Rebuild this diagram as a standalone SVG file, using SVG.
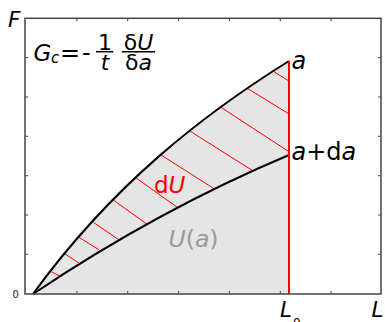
<svg xmlns="http://www.w3.org/2000/svg" width="385" height="322" viewBox="0 0 385 322">
<style>
text{font-family:"DejaVu Sans","Noto Sans",sans-serif;}
.it{font-style:italic;}
.frame{fill:none;stroke:#444;stroke-width:1.5;}
.tick{stroke:#444;stroke-width:1;}
.curve{fill:none;stroke:#000;stroke-width:2;}
.hatch{stroke:#ff0000;stroke-width:1;}
.bar{stroke:#000;stroke-width:1.5;}
</style>
<rect width="385" height="322" fill="#fff"/>
<g id="area">
<path d="M33,294 C113,184 204,114 289,61 L289,294 Z" fill="#e5e5e5"/>
</g>
<g id="hatch">
<line class="hatch" x1="50" y1="271" x2="61" y2="276.7"/>
<line class="hatch" x1="64" y1="253.3" x2="79.3" y2="263.3"/>
<line class="hatch" x1="79" y1="237.3" x2="99.3" y2="250"/>
<line class="hatch" x1="93.3" y1="222.3" x2="119.3" y2="240"/>
<line class="hatch" x1="113.3" y1="200" x2="146.7" y2="224"/>
<line class="hatch" x1="135.7" y1="177.7" x2="177.3" y2="207.3"/>
<line class="hatch" x1="160" y1="154.3" x2="215" y2="189.3"/>
<line class="hatch" x1="189.3" y1="130.7" x2="252.7" y2="170.7"/>
<line class="hatch" x1="220.5" y1="107" x2="289" y2="151.7"/>
<line class="hatch" x1="247.3" y1="88.3" x2="289" y2="114"/>
<line class="hatch" x1="272.7" y1="71" x2="289" y2="81"/>
</g>
<g id="connectors">
<path id="upper" class="curve" d="M33,294 C113,184 204,114 289,61"/>
<path id="lower" class="curve" d="M33,294 C118,237 204,190.7 289,155"/>
<line id="L0line" x1="289" y1="61" x2="289" y2="294" stroke="#ff0000" stroke-width="2"/>
</g>
<g id="axes">
<rect class="frame" x="25" y="18.3" width="356" height="275.7"/>
<g class="tick">
<line x1="25" y1="57.6" x2="28" y2="57.6"/><line x1="25" y1="97" x2="28" y2="97"/><line x1="25" y1="136.3" x2="28" y2="136.3"/><line x1="25" y1="175.7" x2="28" y2="175.7"/><line x1="25" y1="215" x2="28" y2="215"/><line x1="25" y1="254.3" x2="28" y2="254.3"/>
<line x1="381" y1="57.6" x2="378" y2="57.6"/><line x1="381" y1="97" x2="378" y2="97"/><line x1="381" y1="136.3" x2="378" y2="136.3"/><line x1="381" y1="175.7" x2="378" y2="175.7"/><line x1="381" y1="215" x2="378" y2="215"/><line x1="381" y1="254.3" x2="378" y2="254.3"/>
<line x1="76.9" y1="18.3" x2="76.9" y2="21.3"/><line x1="127.7" y1="18.3" x2="127.7" y2="21.3"/><line x1="178.6" y1="18.3" x2="178.6" y2="21.3"/><line x1="229.4" y1="18.3" x2="229.4" y2="21.3"/><line x1="280.3" y1="18.3" x2="280.3" y2="21.3"/><line x1="331.1" y1="18.3" x2="331.1" y2="21.3"/>
<line x1="76.9" y1="294" x2="76.9" y2="291"/><line x1="127.7" y1="294" x2="127.7" y2="291"/><line x1="178.6" y1="294" x2="178.6" y2="291"/><line x1="229.4" y1="294" x2="229.4" y2="291"/><line x1="280.3" y1="294" x2="280.3" y2="291"/><line x1="331.1" y1="294" x2="331.1" y2="291"/>
</g>
<text x="8" y="27.3" font-size="21.5" class="it">F</text>
<text x="12.5" y="297.5" font-size="10" fill="#222">0</text>
<text x="280" y="316.7" font-size="21.5" class="it">L<tspan font-size="12" font-style="normal" dx="1" dy="10">0</tspan></text>
<text x="371.5" y="316.7" font-size="21.5" class="it">L</text>
</g>
<g id="formula">
<text x="33.5" y="61" font-size="23" class="it">G</text>
<text x="51" y="63.3" font-size="15" class="it">c</text>
<text x="60" y="61" font-size="24">=</text>
<text x="82" y="61" font-size="24">-</text>
<line class="bar" x1="96" y1="51.7" x2="113.3" y2="51.7"/>
<text x="105" y="50" font-size="22" text-anchor="middle">1</text>
<text x="105" y="70" font-size="22" text-anchor="middle" class="it">t</text>
<line class="bar" x1="121.7" y1="51.7" x2="155" y2="51.7"/>
<text x="138.5" y="50" font-size="22" text-anchor="middle">δ<tspan class="it">U</tspan></text>
<text x="138.5" y="70" font-size="22" text-anchor="middle">δ<tspan class="it">a</tspan></text>
</g>
<g id="labels">
<text x="291.5" y="69" font-size="24" class="it">a</text>
<text x="291.5" y="160" font-size="24"><tspan class="it">a</tspan>+d<tspan class="it">a</tspan></text>
<text x="154" y="192.5" font-size="23" fill="#ff0000">d<tspan class="it">U</tspan></text>
<text x="168.5" y="246.5" font-size="23.5" fill="#999"><tspan class="it">U</tspan>(<tspan class="it">a</tspan>)</text>
</g>
</svg>
